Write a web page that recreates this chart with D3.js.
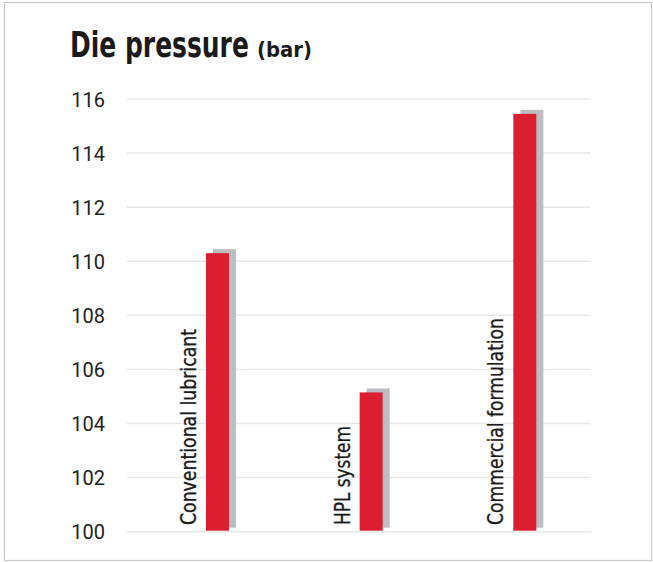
<!DOCTYPE html>
<html lang="en">
<head>
	<meta charset="UTF-8">
	<title>Die pressure</title>
	<style>
		*{margin:0;padding:0;}
		body{background:#fff;}
		svg{display:block;}
	</style>
</head>
<body>
	<div id="container"></div>
	<script src="https://cdn.jsdelivr.net/npm/d3@7/dist/d3.min.js" charset="utf-8"></script>
	<script>
		var categories = ['Conventional lubricant', 'HPL system', 'Commercial formulation']
		var values = [110.3, 105.15, 115.45]
		var ticks = [100, 102, 104, 106, 108, 110, 112, 114, 116]

		var W = 653, H = 562
		var narrow = '"Liberation Sans Narrow", "DejaVu Sans Condensed", "Roboto", sans-serif'

		var svg = d3.select('#container').append('svg').attr('width', W).attr('height', H)

		// frame
		svg.append('rect')
			.attr('x', 4.5).attr('y', 2.5)
			.attr('width', 647).attr('height', 558)
			.attr('fill', 'none').attr('stroke', '#c8c8c8').attr('stroke-width', 1.2)

		var y = d3.scaleLinear().domain([100, 116]).range([531.7, 99])
		var x = d3.scaleBand().domain(categories).range([129, 590])

		// title, squeezed horizontally to the width of the condensed original
		function squeezed(tx, ty, size, str, width) {
			var t = svg.append('text')
				.attr('font-family', narrow).attr('font-weight', 'bold').attr('fill', '#1a1a1a')
				.attr('font-size', size).text(str)
			var k = width / t.node().getComputedTextLength()
			t.attr('transform', `translate(${tx},${ty}) scale(${k},1)`)
		}
		squeezed(70, 57, 35, 'Die pressure', 179)
		squeezed(257, 57, 22, '(bar)', 55)

		// grid
		svg.append('g').selectAll('line')
			.data(ticks).enter().append('line')
			.attr('x1', 127).attr('x2', 591)
			.attr('y1', function (d) { return y(d) }).attr('y2', function (d) { return y(d) })
			.attr('stroke', '#e8e8e8').attr('stroke-width', 1.5)

		var yAxis = svg.append('g').attr('transform', 'translate(105,0)')
			.call(d3.axisLeft(y).tickValues(ticks).tickSize(0).tickPadding(0))
		yAxis.select('.domain').remove()
		yAxis.selectAll('text')
			.attr('font-family', 'Roboto, "Noto Sans", sans-serif')
			.attr('font-size', 20).attr('fill', '#222')
			.attr('dy', '0.35em')

		var bw = 23
		var bar = svg.selectAll('g.bar')
			.data(categories).enter().append('g').attr('class', 'bar')
			.attr('transform', function (d) { return `translate(${x(d) + 77}, 0)` })

		// grey shadow
		bar.append('rect')
			.attr('x', 7)
			.attr('y', function (d, i) { return y(values[i]) - 4 })
			.attr('width', bw)
			.attr('height', function (d, i) { return y(100) - y(values[i]) })
			.attr('fill', '#bcbdc1')
		bar.append('rect')
			.attr('x', 0)
			.attr('y', function (d, i) { return y(values[i]) })
			.attr('width', bw)
			.attr('height', function (d, i) { return y(100) - y(values[i]) - 1 })
			.attr('fill', '#dc1f30')

		var lens = { 'Conventional lubricant': 196, 'HPL system': 99, 'Commercial formulation': 207 }
		bar.append('text')
			.attr('transform', 'translate(-10,525) rotate(-90)')
			.attr('font-family', narrow).attr('font-size', 22).attr('fill', '#1a1a1a')
			.attr('stroke', '#1a1a1a').attr('stroke-width', 0.3)
			.attr('textLength', function (d) { return lens[d] })
			.attr('lengthAdjust', 'spacingAndGlyphs')
			.text(function (d) { return d })
	</script>
</body>
</html>
